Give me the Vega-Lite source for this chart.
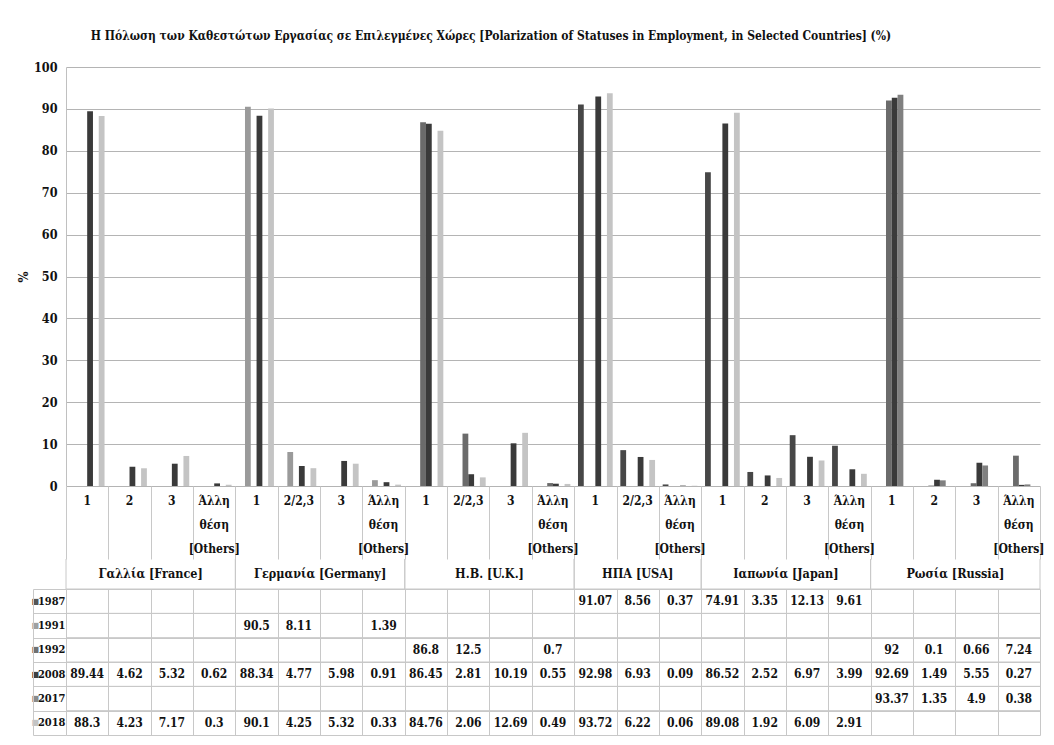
{
  "$schema": "https://vega.github.io/schema/vega-lite/v6.json",
  "padding": {"left": 17, "top": 30, "right": 5, "bottom": 5},
  "spacing": 0,
  "bounds": "flush",
  "title": {"text": "Η Πόλωση των Καθεστώτων Εργασίας σε Επιλεγμένες Χώρες [Polarization of Statuses in Employment, in Selected Countries] (%)", "font": "DejaVu Serif Condensed", "fontSize": 12, "fontWeight": "bold", "anchor": "middle", "dx": -40, "offset": 18, "color": "#111"},
  "config": {"font": "DejaVu Serif Condensed", "view": {"stroke": null},
             "axis": {"labelFont": "DejaVu Serif Condensed", "titleFont": "DejaVu Serif Condensed"},
             "text": {"font": "DejaVu Serif Condensed"}},
  "datasets": {
    "cats": [
      {"cat": "France 1", "lab": "1"}, {"cat": "France 2", "lab": "2"}, {"cat": "France 3", "lab": "3"}, {"cat": "France Others", "lab": "Άλλη\nθέση\n[Others]"},
      {"cat": "Germany 1", "lab": "1"}, {"cat": "Germany 2/2,3", "lab": "2/2,3"}, {"cat": "Germany 3", "lab": "3"}, {"cat": "Germany Others", "lab": "Άλλη\nθέση\n[Others]"},
      {"cat": "UK 1", "lab": "1"}, {"cat": "UK 2/2,3", "lab": "2/2,3"}, {"cat": "UK 3", "lab": "3"}, {"cat": "UK Others", "lab": "Άλλη\nθέση\n[Others]"},
      {"cat": "USA 1", "lab": "1"}, {"cat": "USA 2/2,3", "lab": "2/2,3"}, {"cat": "USA Others", "lab": "Άλλη\nθέση\n[Others]"},
      {"cat": "Japan 1", "lab": "1"}, {"cat": "Japan 2", "lab": "2"}, {"cat": "Japan 3", "lab": "3"}, {"cat": "Japan Others", "lab": "Άλλη\nθέση\n[Others]"},
      {"cat": "Russia 1", "lab": "1"}, {"cat": "Russia 2", "lab": "2"}, {"cat": "Russia 3", "lab": "3"}, {"cat": "Russia Others", "lab": "Άλλη\nθέση\n[Others]"}
    ],
    "countries": [
      {"name": "Γαλλία [France]", "first": "France 1", "mid": "France 2", "last": "France Others", "n": 4},
      {"name": "Γερμανία [Germany]", "first": "Germany 1", "mid": "Germany 2/2,3", "last": "Germany Others", "n": 4},
      {"name": "Η.Β. [U.K.]", "first": "UK 1", "mid": "UK 2/2,3", "last": "UK Others", "n": 4},
      {"name": "ΗΠΑ [USA]", "first": "USA 1", "mid": "USA 2/2,3", "last": "USA Others", "n": 3},
      {"name": "Ιαπωνία [Japan]", "first": "Japan 1", "mid": "Japan 2", "last": "Japan Others", "n": 4},
      {"name": "Ρωσία [Russia]", "first": "Russia 1", "mid": "Russia 2", "last": "Russia Others", "n": 4}
    ],
    "years": [{"year": "1987"}, {"year": "1991"}, {"year": "1992"}, {"year": "2008"}, {"year": "2017"}, {"year": "2018"}],
    "vals": [
      {"cat": "France 1", "year": "2008", "value": 89.44}, {"cat": "France 1", "year": "2018", "value": 88.3},
      {"cat": "France 2", "year": "2008", "value": 4.62}, {"cat": "France 2", "year": "2018", "value": 4.23},
      {"cat": "France 3", "year": "2008", "value": 5.32}, {"cat": "France 3", "year": "2018", "value": 7.17},
      {"cat": "France Others", "year": "2008", "value": 0.62}, {"cat": "France Others", "year": "2018", "value": 0.3},
      {"cat": "Germany 1", "year": "1991", "value": 90.5}, {"cat": "Germany 1", "year": "2008", "value": 88.34}, {"cat": "Germany 1", "year": "2018", "value": 90.1},
      {"cat": "Germany 2/2,3", "year": "1991", "value": 8.11}, {"cat": "Germany 2/2,3", "year": "2008", "value": 4.77}, {"cat": "Germany 2/2,3", "year": "2018", "value": 4.25},
      {"cat": "Germany 3", "year": "2008", "value": 5.98}, {"cat": "Germany 3", "year": "2018", "value": 5.32},
      {"cat": "Germany Others", "year": "1991", "value": 1.39}, {"cat": "Germany Others", "year": "2008", "value": 0.91}, {"cat": "Germany Others", "year": "2018", "value": 0.33},
      {"cat": "UK 1", "year": "1992", "value": 86.8}, {"cat": "UK 1", "year": "2008", "value": 86.45}, {"cat": "UK 1", "year": "2018", "value": 84.76},
      {"cat": "UK 2/2,3", "year": "1992", "value": 12.5}, {"cat": "UK 2/2,3", "year": "2008", "value": 2.81}, {"cat": "UK 2/2,3", "year": "2018", "value": 2.06},
      {"cat": "UK 3", "year": "2008", "value": 10.19}, {"cat": "UK 3", "year": "2018", "value": 12.69},
      {"cat": "UK Others", "year": "1992", "value": 0.7}, {"cat": "UK Others", "year": "2008", "value": 0.55}, {"cat": "UK Others", "year": "2018", "value": 0.49},
      {"cat": "USA 1", "year": "1987", "value": 91.07}, {"cat": "USA 1", "year": "2008", "value": 92.98}, {"cat": "USA 1", "year": "2018", "value": 93.72},
      {"cat": "USA 2/2,3", "year": "1987", "value": 8.56}, {"cat": "USA 2/2,3", "year": "2008", "value": 6.93}, {"cat": "USA 2/2,3", "year": "2018", "value": 6.22},
      {"cat": "USA Others", "year": "1987", "value": 0.37}, {"cat": "USA Others", "year": "2008", "value": 0.09}, {"cat": "USA Others", "year": "2018", "value": 0.06},
      {"cat": "Japan 1", "year": "1987", "value": 74.91}, {"cat": "Japan 1", "year": "2008", "value": 86.52}, {"cat": "Japan 1", "year": "2018", "value": 89.08},
      {"cat": "Japan 2", "year": "1987", "value": 3.35}, {"cat": "Japan 2", "year": "2008", "value": 2.52}, {"cat": "Japan 2", "year": "2018", "value": 1.92},
      {"cat": "Japan 3", "year": "1987", "value": 12.13}, {"cat": "Japan 3", "year": "2008", "value": 6.97}, {"cat": "Japan 3", "year": "2018", "value": 6.09},
      {"cat": "Japan Others", "year": "1987", "value": 9.61}, {"cat": "Japan Others", "year": "2008", "value": 3.99}, {"cat": "Japan Others", "year": "2018", "value": 2.91},
      {"cat": "Russia 1", "year": "1992", "value": 92}, {"cat": "Russia 1", "year": "2008", "value": 92.69}, {"cat": "Russia 1", "year": "2017", "value": 93.37},
      {"cat": "Russia 2", "year": "1992", "value": 0.1}, {"cat": "Russia 2", "year": "2008", "value": 1.49}, {"cat": "Russia 2", "year": "2017", "value": 1.35},
      {"cat": "Russia 3", "year": "1992", "value": 0.66}, {"cat": "Russia 3", "year": "2008", "value": 5.55}, {"cat": "Russia 3", "year": "2017", "value": 4.9},
      {"cat": "Russia Others", "year": "1992", "value": 7.24}, {"cat": "Russia Others", "year": "2008", "value": 0.27}, {"cat": "Russia Others", "year": "2017", "value": 0.38}
    ]
  },
  "vconcat": [
    {
      "width": 974, "height": 419,
      "data": {"name": "vals"},
      "mark": {"type": "bar"},
      "encoding": {
        "x": {"field": "cat", "type": "nominal", "scale": {"domain": ["France 1","France 2","France 3","France Others","Germany 1","Germany 2/2,3","Germany 3","Germany Others","UK 1","UK 2/2,3","UK 3","UK Others","USA 1","USA 2/2,3","USA Others","Japan 1","Japan 2","Japan 3","Japan Others","Russia 1","Russia 2","Russia 3","Russia Others"], "paddingInner": 0.18, "paddingOuter": 0.09}, "axis": null},
        "xOffset": {"field": "year", "type": "nominal", "scale": {"domain": ["1987","1991","1992","2008","2017","2018"], "paddingInner": 0, "paddingOuter": 0}},
        "y": {"field": "value", "type": "quantitative", "scale": {"domain": [0, 100], "nice": false},
              "axis": {"values": [0,10,20,30,40,50,60,70,80,90,100], "grid": true, "gridColor": "#b4b4b4", "domainColor": "#c0c0c0", "ticks": false, "labelFontSize": 12.5, "labelFontWeight": "bold", "labelColor": "#111", "labelPadding": 9, "title": "%", "titleFontSize": 13, "titleFontWeight": "bold", "titleColor": "#111", "titlePadding": 3}},
        "color": {"field": "year", "type": "nominal", "scale": {"domain": ["1987","1991","1992","2008","2017","2018"], "range": ["#474747","#9a9a9a","#6b6b6b","#3a3a3a","#808080","#c4c4c4"]}, "legend": null}
      }
    },
    {
      "width": 974, "height": 73,
      "data": {"name": "cats"},
      "mark": {"type": "text", "baseline": "top", "lineBreak": "\n", "fontSize": 12, "fontWeight": "bold", "lineHeight": 24, "dy": 10, "color": "#111"},
      "encoding": {
        "x": {"field": "cat", "type": "nominal", "scale": {"domain": ["France 1","France 2","France 3","France Others","Germany 1","Germany 2/2,3","Germany 3","Germany Others","UK 1","UK 2/2,3","UK 3","UK Others","USA 1","USA 2/2,3","USA Others","Japan 1","Japan 2","Japan 3","Japan Others","Russia 1","Russia 2","Russia 3","Russia Others"], "paddingInner": 0, "paddingOuter": 0},
              "axis": {"grid": true, "tickBand": "extent", "labels": false, "ticks": false, "domain": false, "title": null, "gridColor": "#c8c8c8"}},
        "y": {"datum": 1, "type": "quantitative", "scale": {"domain": [0, 1]}, "axis": null},
        "text": {"field": "lab", "type": "nominal"}
      }
    },
    {
      "width": 974, "height": 30,
      "data": {"name": "countries"},
      "layer": [
        {"mark": {"type": "rule", "color": "#c8c8c8"},
         "encoding": {"x": {"field": "first", "type": "nominal", "bandPosition": 0, "scale": {"domain": ["France 1","France 2","France 3","France Others","Germany 1","Germany 2/2,3","Germany 3","Germany Others","UK 1","UK 2/2,3","UK 3","UK Others","USA 1","USA 2/2,3","USA Others","Japan 1","Japan 2","Japan 3","Japan Others","Russia 1","Russia 2","Russia 3","Russia Others"], "paddingInner": 0, "paddingOuter": 0}, "axis": null}}},
        {"mark": {"type": "rule", "color": "#c8c8c8"},
         "encoding": {"x": {"field": "last", "type": "nominal", "bandPosition": 1, "axis": null}}},
        {"transform": [{"filter": "datum.n == 4"}],
         "mark": {"type": "text", "fontSize": 12.5, "fontWeight": "bold", "color": "#111"},
         "encoding": {"x": {"field": "mid", "type": "nominal", "bandPosition": 1, "axis": null}, "text": {"field": "name", "type": "nominal"}}},
        {"transform": [{"filter": "datum.n == 3"}],
         "mark": {"type": "text", "fontSize": 12.5, "fontWeight": "bold", "color": "#111"},
         "encoding": {"x": {"field": "mid", "type": "nominal", "bandPosition": 0.5, "axis": null}, "text": {"field": "name", "type": "nominal"}}}
      ]
    },
    {
      "width": 974, "height": 146,
      "layer": [
        {
          "data": {"name": "vals"},
          "mark": {"type": "text", "fontSize": 12, "fontWeight": "bold", "color": "#111"},
          "encoding": {
            "x": {"field": "cat", "type": "nominal", "scale": {"domain": ["France 1","France 2","France 3","France Others","Germany 1","Germany 2/2,3","Germany 3","Germany Others","UK 1","UK 2/2,3","UK 3","UK Others","USA 1","USA 2/2,3","USA Others","Japan 1","Japan 2","Japan 3","Japan Others","Russia 1","Russia 2","Russia 3","Russia Others"], "paddingInner": 0, "paddingOuter": 0},
                  "axis": {"grid": true, "tickBand": "extent", "labels": false, "ticks": false, "domain": false, "title": null, "gridColor": "#c8c8c8"}},
            "y": {"field": "year", "type": "nominal", "scale": {"domain": ["1987","1991","1992","2008","2017","2018"], "paddingInner": 0, "paddingOuter": 0},
                  "axis": {"orient": "left", "title": null, "domain": false, "ticks": false, "tickSize": 0, "labelPadding": 1, "labelAlign": "right", "grid": true, "tickBand": "extent", "gridColor": "#c8c8c8", "labelFontSize": 11, "labelFontWeight": "bold", "labelColor": "#111"}},
            "text": {"field": "value", "type": "nominal"}
          }
        },
        {
          "data": {"name": "years"},
          "mark": {"type": "rule", "color": "#c8c8c8"},
          "encoding": {
            "y": {"field": "year", "type": "nominal", "bandPosition": 0,
                  "axis": {"orient": "left", "title": null, "offset": 33, "domain": true, "domainColor": "#c8c8c8", "ticks": true, "tickSize": -33, "tickBand": "extent", "tickColor": "#c8c8c8", "labelPadding": 35, "labelAlign": "left", "labelExpr": "datum.label ? '■' : ''", "labelFont": "DejaVu Sans", "labelFontSize": 8,
                           "labelColor": {"condition": [{"test": "datum.value === '1987'", "value": "#555555"}, {"test": "datum.value === '1991'", "value": "#a0a0a0"}, {"test": "datum.value === '1992'", "value": "#707070"}, {"test": "datum.value === '2008'", "value": "#404040"}, {"test": "datum.value === '2017'", "value": "#8a8a8a"}], "value": "#c4c4c4"}}}
          }
        }
      ],
      "resolve": {"axis": {"y": "independent"}}
    }
  ]
}
